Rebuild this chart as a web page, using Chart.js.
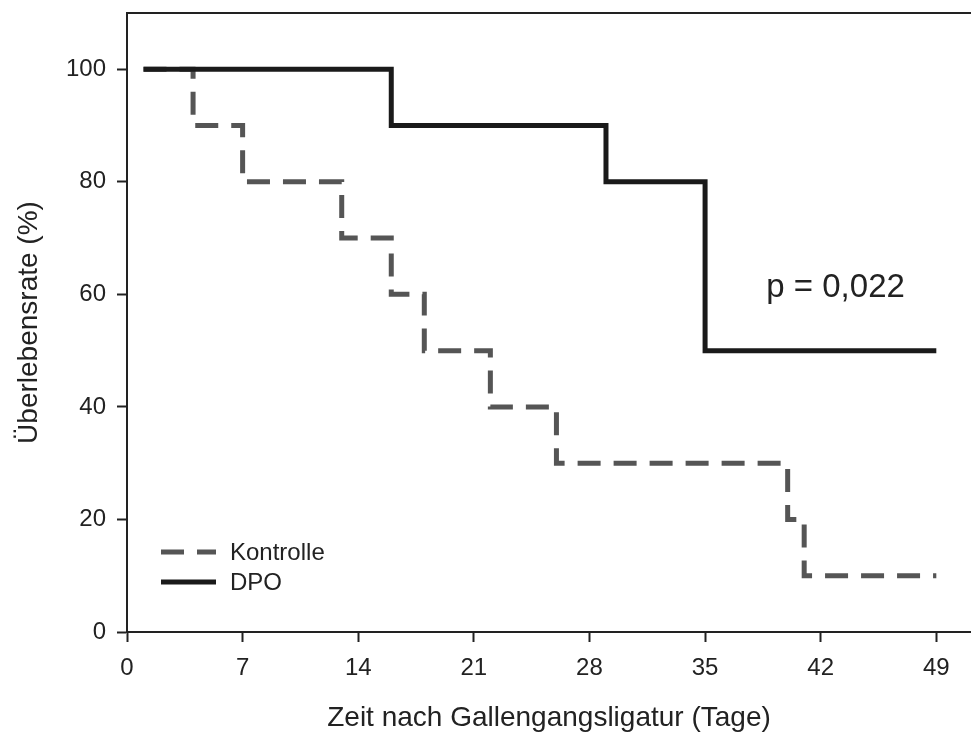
<!DOCTYPE html>
<html>
<head>
<meta charset="utf-8">
<script src="https://cdn.jsdelivr.net/npm/chart.js@4/dist/chart.umd.min.js"></script>
<style>
  body { margin: 0; background: #fff; }
  #wrap { width: 971px; height: 738px; }
</style>
</head>
<body>
<div id="wrap"><canvas id="kmChart"></canvas></div>
<script>
// Kaplan-Meier Daten (Tage / Überlebensrate %)
const kontrolleTage = [1, 4, 7, 13, 16, 18, 22, 26, 40, 41, 49];
const kontrolleRate = [100, 90, 80, 70, 60, 50, 40, 30, 20, 10, 10];
const dpoTage = [1, 16, 29, 35, 49];
const dpoRate = [100, 90, 80, 50, 50];
const xTicks = [0, 7, 14, 21, 28, 35, 42, 49];
const yTicks = [0, 20, 40, 60, 80, 100];
const pText = 'p = 0,022';
const pPos = { x: 42.9, y: 61.2 };

const FONT = '"Liberation Sans", Arial, sans-serif';
const INK = '#222';

// KM: previous rate holds until the next event day
const toPoints = (days, rates) => days.map((d, i) => ({ x: d, y: rates[i] }));

// top frame line, legend, p value
const extras = {
  id: 'extras',
  afterDraw(chart) {
    const ctx = chart.ctx;
    const area = chart.chartArea;
    ctx.save();
    ctx.strokeStyle = INK;
    ctx.lineWidth = 2;
    ctx.beginPath();
    ctx.moveTo(area.left, area.top);
    ctx.lineTo(area.right, area.top);
    ctx.stroke();

    // legend
    ctx.font = '24px ' + FONT;
    ctx.textBaseline = 'middle';
    chart.data.datasets.forEach((ds, i) => {
      const y = area.bottom - 80 + i * 30;
      const x0 = area.left + 34;
      ctx.strokeStyle = ds.borderColor;
      ctx.lineWidth = ds.borderWidth;
      ctx.setLineDash(ds.borderDash || []);
      ctx.beginPath();
      ctx.moveTo(x0, y);
      ctx.lineTo(x0 + 55, y);
      ctx.stroke();
      ctx.setLineDash([]);
      ctx.fillStyle = INK;
      ctx.textAlign = 'left';
      ctx.fillText(ds.label, x0 + 69, y + 1);
    });

    // p value
    const xs = chart.scales.x, ys = chart.scales.y;
    ctx.font = '33px ' + FONT;
    ctx.textAlign = 'center';
    ctx.fillStyle = INK;
    ctx.fillText(pText, xs.getPixelForValue(pPos.x), ys.getPixelForValue(pPos.y));
    ctx.restore();
  }
};

new Chart(document.getElementById('kmChart'), {
  type: 'line',
  data: {
    datasets: [
      {
        label: 'Kontrolle',
        data: toPoints(kontrolleTage, kontrolleRate),
        borderColor: '#555555',
        borderWidth: 5,
        borderDash: [23, 13],
        stepped: 'before',
        pointRadius: 0,
        order: 1
      },
      {
        label: 'DPO',
        data: toPoints(dpoTage, dpoRate),
        borderColor: '#1a1a1a',
        borderWidth: 5,
        stepped: 'before',
        pointRadius: 0,
        order: 0
      }
    ]
  },
  options: {
    responsive: true,
    maintainAspectRatio: false,
    animation: false,
    layout: { padding: { top: 13, right: 0, left: 0, bottom: 0 } },
    plugins: {
      legend: { display: false },
      tooltip: { enabled: false }
    },
    scales: {
      x: {
        type: 'linear',
        min: 0,
        max: 51.1,
        afterBuildTicks: (scale) => { scale.ticks = xTicks.map(v => ({ value: v })); },
        afterFit: (scale) => { scale.height = 106; scale.paddingLeft = 0; scale.paddingRight = 0; },
        grid: { drawOnChartArea: false, tickLength: 10, tickColor: INK, tickWidth: 2 },
        border: { color: INK, width: 2 },
        ticks: { color: INK, padding: 12, maxRotation: 0, font: { family: FONT, size: 24 } },
        title: {
          display: true,
          text: 'Zeit nach Gallengangsligatur (Tage)',
          color: INK,
          font: { family: FONT, size: 28 },
          padding: { top: 0, bottom: 3 }
        }
      },
      y: {
        min: 0,
        max: 110,
        afterBuildTicks: (scale) => { scale.ticks = yTicks.map(v => ({ value: v })); },
        afterFit: (scale) => { scale.width = 127; scale.paddingTop = 0; scale.paddingBottom = 0; },
        grid: { drawOnChartArea: false, tickLength: 10, tickColor: INK, tickWidth: 2 },
        border: { color: INK, width: 2 },
        ticks: { color: INK, padding: 11, font: { family: FONT, size: 24 } },
        title: {
          display: true,
          text: 'Überlebensrate (%)',
          color: INK,
          font: { family: FONT, size: 28 },
          padding: { top: 12, bottom: 0 }
        }
      }
    }
  },
  plugins: [extras]
});
</script>
</body>
</html>
